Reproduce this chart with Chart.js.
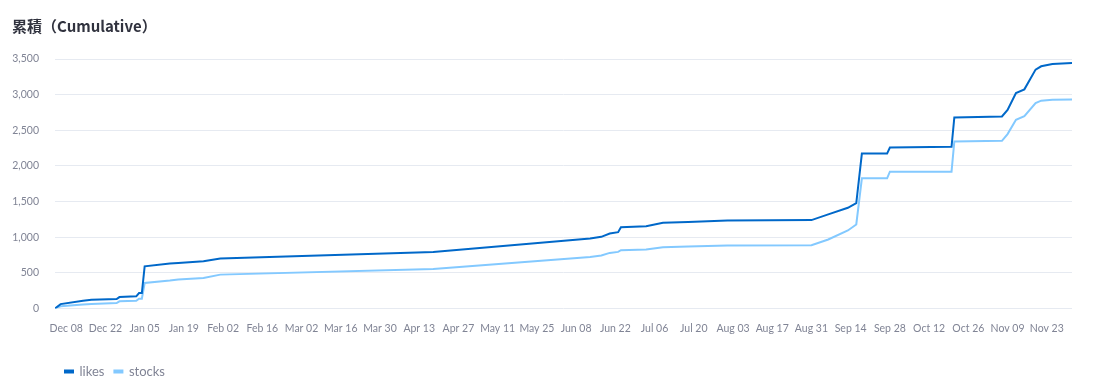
<!DOCTYPE html>
<html>
<head>
<meta charset="utf-8">
<script src="https://cdn.jsdelivr.net/npm/chart.js@4.4.1/dist/chart.umd.min.js"></script>
<style>
html, body { margin: 0; padding: 0; background: #fff; }
#wrap { position: relative; width: 1095px; height: 386px; }
#title { position: absolute; left: 12px; top: 15px; font: 600 15px "Noto Sans CJK JP", "Noto Sans", sans-serif; color: #31333f; }
canvas { position: absolute; left: 0; top: 0; }
</style>
</head>
<body>
<div id="wrap">
  <canvas id="graph" width="1095" height="386"></canvas>
  <div id="title">累積（Cumulative）</div>
</div>
<script>
// 日付ごとの累積値
const dates = [
  '2024-12-04', '2024-12-06', '2024-12-14', '2024-12-17', '2024-12-26', '2024-12-27',
  '2025-01-02', '2025-01-03', '2025-01-04', '2025-01-05', '2025-01-14', '2025-01-17',
  '2025-01-26', '2025-02-01', '2025-04-18', '2025-06-13', '2025-06-17', '2025-06-20',
  '2025-06-23', '2025-06-24', '2025-07-03', '2025-07-09', '2025-07-18', '2025-08-01',
  '2025-08-31', '2025-09-06', '2025-09-13', '2025-09-16', '2025-09-18', '2025-09-27',
  '2025-09-28', '2025-10-20', '2025-10-21', '2025-11-07', '2025-11-09', '2025-11-12',
  '2025-11-15', '2025-11-19', '2025-11-21', '2025-11-25', '2025-12-02'
];
const likes = [
  0, 60, 108, 122, 131, 159,
  169, 216, 216, 591, 629, 638,
  662, 700, 793, 981, 1004, 1051,
  1070, 1140, 1154, 1201, 1211, 1235,
  1239, 1319, 1412, 1478, 2173, 2173,
  2257, 2267, 2680, 2694, 2784, 3023,
  3074, 3351, 3398, 3431, 3445
];
const stocks = [
  0, 30, 55, 62, 75, 99,
  108, 136, 136, 356, 390, 404,
  427, 474, 553, 722, 742, 779,
  793, 817, 826, 859, 870, 883,
  887, 967, 1094, 1178, 1826, 1826,
  1919, 1919, 2342, 2351, 2446, 2647,
  2699, 2882, 2915, 2929, 2933
];
// 2週間ごとの目盛り (Dec 08 起点)
const tickLabels = [
  'Dec 08', 'Dec 22', 'Jan 05', 'Jan 19', 'Feb 02', 'Feb 16', 'Mar 02', 'Mar 16', 'Mar 30',
  'Apr 13', 'Apr 27', 'May 11', 'May 25', 'Jun 08', 'Jun 22', 'Jul 06', 'Jul 20', 'Aug 03',
  'Aug 17', 'Aug 31', 'Sep 14', 'Sep 28', 'Oct 12', 'Oct 26', 'Nov 09', 'Nov 23'
];
const tickStart = '2024-12-08';
const tickStepDays = 14;

function toDay(s) {
  const p = s.split('-');
  const t0 = tickStart.split('-');
  return (Date.UTC(+p[0], p[1] - 1, +p[2]) - Date.UTC(+t0[0], t0[1] - 1, +t0[2])) / 86400000;
}

const days = dates.map(toDay);
const gray = '#808495';

window.addEventListener('load', function () {
  const ctx = document.getElementById('graph').getContext('2d');
  new Chart(ctx, {
    type: 'line',
    data: {
      datasets: [
        {
          label: 'likes',
          data: days.map((d, i) => ({ x: d, y: likes[i] })),
          borderColor: '#0068c9',
          backgroundColor: '#0068c9',
          borderWidth: 2,
          pointRadius: 0,
          tension: 0
        },
        {
          label: 'stocks',
          data: days.map((d, i) => ({ x: d, y: stocks[i] })),
          borderColor: '#83c9ff',
          backgroundColor: '#83c9ff',
          borderWidth: 2,
          pointRadius: 0,
          tension: 0
        }
      ]
    },
    options: {
      responsive: false,
      animation: false,
      layout: { padding: { top: 59, left: 0, right: 23, bottom: -2 } },
      scales: {
        x: {
          type: 'linear',
          min: days[0],
          max: days[days.length - 1],
          grid: { display: false, drawTicks: false },
          border: { display: false },
          afterBuildTicks: function (axis) {
            axis.ticks = tickLabels.map((l, i) => ({ value: i * tickStepDays }));
          },
          afterFit: function (axis) { axis.height += 6; },
          ticks: {
            autoSkip: false,
            maxRotation: 0,
            padding: 14,
            color: gray,
            font: { family: 'Lato', size: 10.5 },
            callback: function (value, index) { return tickLabels[index]; }
          }
        },
        y: {
          min: 0,
          max: 3500,
          grid: { color: '#e6eaf1', drawTicks: false },
          border: { display: false },
          afterFit: function (axis) { axis.width = 55; },
          ticks: {
            stepSize: 500,
            padding: 16,
            color: gray,
            font: { family: 'Lato', size: 10.5 }
          }
        }
      },
      plugins: {
        legend: {
          position: 'bottom',
          align: 'start',
          fullSize: false,
          labels: {
            boxWidth: 8,
            boxHeight: 2,
            padding: 10,
            color: gray,
            font: { family: 'Lato', size: 13 }
          }
        },
        tooltip: { enabled: false }
      }
    }
  });
});
</script>
</body>
</html>
